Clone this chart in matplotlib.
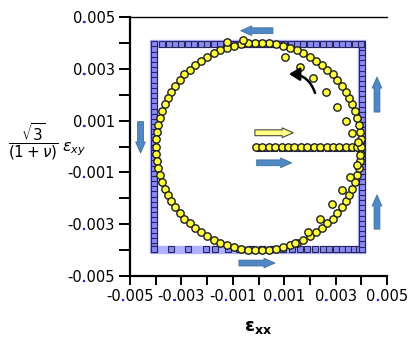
import matplotlib
matplotlib.use("Agg")
import matplotlib.pyplot as plt
import matplotlib.transforms as mtransforms
from matplotlib.patches import FancyArrowPatch

plt.rcParams['font.family'] = ['DejaVu Sans']
plt.rcParams['mathtext.fontset'] = 'dejavusans'

S = 1e-3  # data listed in units of 1e-3

# ---- yellow circles (units 1e-3) ----
yel_line_x = [-0.10, 0.15, 0.40, 0.65, 0.90, 1.15, 1.40, 1.65, 1.90, 2.15, 2.40, 2.65, 2.90, 3.15, 3.40, 3.65, 3.85]
yel_line_y = [0.0] * len(yel_line_x)

yel_q1_x = [4.00, 3.99, 3.96, 3.91, 3.85, 3.76, 3.65, 3.53, 3.39, 3.24, 3.06, 2.88, 2.68, 2.46, 2.24, 2.00, 1.75, 1.50, 1.24, 0.97, 0.69, 0.42, 0.14]
yel_q1_y = [0.00, 0.28, 0.56, 0.83, 1.10, 1.37, 1.63, 1.88, 2.12, 2.35, 2.57, 2.78, 2.97, 3.15, 3.32, 3.46, 3.60, 3.71, 3.80, 3.88, 3.94, 3.98, 4.00]
yel_q2_x = [-0.14, -0.42, -0.69, -0.97, -1.24, -1.50, -1.75, -2.00, -2.24, -2.46, -2.68, -2.88, -3.06, -3.24, -3.39, -3.53, -3.65, -3.76, -3.85, -3.91, -3.96, -3.99, -4.00]
yel_q2_y = [4.00, 3.98, 3.94, 3.88, 3.80, 3.71, 3.60, 3.46, 3.32, 3.15, 2.97, 2.78, 2.57, 2.35, 2.12, 1.88, 1.63, 1.37, 1.10, 0.83, 0.56, 0.28, 0.00]
yel_q3_x = [-3.99, -3.96, -3.91, -3.85, -3.76, -3.65, -3.53, -3.39, -3.24, -3.06, -2.88, -2.68, -2.46, -2.24, -2.00, -1.75, -1.50, -1.24, -0.97, -0.69, -0.42, -0.14]
yel_q3_y = [-0.28, -0.56, -0.83, -1.10, -1.37, -1.63, -1.88, -2.12, -2.35, -2.57, -2.78, -2.97, -3.15, -3.32, -3.46, -3.60, -3.71, -3.80, -3.88, -3.94, -3.98, -4.00]
yel_q4_x = [0.14, 0.42, 0.69, 0.97, 1.24, 1.50, 1.75, 2.00, 2.24, 2.46, 2.68, 2.88, 3.06, 3.24, 3.39, 3.53, 3.65, 3.76, 3.85, 3.91, 3.96, 3.99]
yel_q4_y = [-4.00, -3.98, -3.94, -3.88, -3.80, -3.71, -3.60, -3.46, -3.32, -3.15, -2.97, -2.78, -2.57, -2.35, -2.12, -1.88, -1.63, -1.37, -1.10, -0.83, -0.56, -0.28]

yel_inner_x = [-1.24, -0.59, 1.03, 1.61, 2.13, 2.63, 3.04, 3.39, 3.65, 3.87,
               3.95, 3.82, 3.56, 3.23, 2.87, 2.39, 1.94, 1.42]
yel_inner_y = [4.05, 4.11, 3.47, 3.08, 2.63, 2.12, 1.51, 1.00, 0.51, 0.17,
               -0.33, -0.71, -1.17, -1.68, -2.23, -2.81, -3.29, -3.71]

# ---- blue squares (units 1e-3) ----
sq_mid_x = [0.0, 0.3, 0.6, 0.9, 1.2, 1.5, 1.8, 2.1, 2.4, 2.7, 3.0, 3.3, 3.6, 3.9]
sq_mid_y = [-0.05] * len(sq_mid_x)
sq_rhigh_y = [0.05, 0.25, 0.45, 0.65, 0.85, 1.05, 1.25, 1.45, 1.65, 1.85, 2.05, 2.25, 2.45, 2.65, 2.85, 3.05, 3.25, 3.45, 3.65, 3.85, 3.95]
sq_rhigh_x = [4.02] * len(sq_rhigh_y)
sq_top_x = [4.00, 3.75, 3.50, 3.25, 3.00, 2.75, 2.50, 2.25, 2.00, 1.75, 1.50, 1.25, 1.00, 0.75, 0.50, 0.25, 0.00,
            -0.25, -0.50, -0.75, -1.00, -1.25, -1.50, -1.75, -2.00, -2.25, -2.50, -2.75, -3.00, -3.25, -3.50, -3.75, -4.05]
sq_top_y = [3.95] * len(sq_top_x)
sq_left_y = [3.95, 3.75, 3.55, 3.35, 3.15, 2.95, 2.75, 2.55, 2.35, 2.15, 1.95, 1.75, 1.55, 1.35, 1.15, 0.95, 0.75, 0.55, 0.35, 0.15,
             -0.05, -0.25, -0.45, -0.65, -0.85, -1.05, -1.25, -1.45, -1.65, -1.85, -2.05, -2.25, -2.45, -2.65, -2.85, -3.05, -3.25, -3.45, -3.65, -3.85, -3.97]
sq_left_x = [-4.07] * len(sq_left_y)
sq_bot_x = [-4.05, -3.40, -2.75, -2.05, -1.70, -1.20, -0.75, -0.30, 0.15, 0.55, 0.95, 1.30, 1.60, 1.90, 2.20, 2.50, 2.75, 3.00, 3.25, 3.50, 3.70, 3.90, 4.02]
sq_bot_y = [-3.97] * len(sq_bot_x)
sq_rlow_y = [-3.95, -3.75, -3.55, -3.35, -3.15, -2.95, -2.75, -2.55, -2.35, -2.15, -1.95, -1.75, -1.55, -1.35, -1.15, -0.95, -0.75, -0.55, -0.35, -0.15]
sq_rlow_x = [4.02] * len(sq_rlow_y)

# ---- direction arrows (x0, y0, x1, y1), units 1e-3 ----
blue_arrows = [(0.56, 4.47, -0.69, 4.47),
               (-4.59, 0.96, -4.59, -0.25),
               (4.61, 1.33, 4.61, 2.68),
               (4.61, -3.19, 4.61, -1.87),
               (-0.76, -4.50, 0.64, -4.50),
               (-0.07, -0.63, 1.29, -0.63)]
yellow_arrow = (-0.14, 0.53, 1.35, 0.53)
curved_arrow = (2.20, 2.07, 1.19, 2.80)

ticks = [-5, -4, -3, -2, -1, 0, 1, 2, 3, 4, 5]
xtick_labels = ['-0.005', '', '-0.003', '', '-0.001', '', '0.001', '', '0.003', '', '0.005']
ytick_labels = ['-0.005', '', '-0.003', '', '-0.001', '', '0.001', '', '0.003', '', '0.005']

fig = plt.figure(figsize=(4.08, 3.42), dpi=100)
ax = fig.add_axes([130/408, 66/342, 257/408, 259/342])

def sc(v):
    return [a * S for a in v]

# light band behind the squares
band_x = [4.02, 4.02, -4.07, -4.07, 4.02, 4.02]
band_y = [0.0, 3.95, 3.95, -3.99, -3.99, 0.0]
ax.plot(sc(band_x), sc(band_y), color='#a4a4ff', lw=6, alpha=0.85, solid_joinstyle='miter', zorder=1)

sq_style = dict(ls='none', marker='s', ms=4.8, mfc='#8a8af2', mec='#26265a', mew=0.8, zorder=2)
for xs, ys in [(sq_mid_x, sq_mid_y), (sq_rhigh_x, sq_rhigh_y), (sq_top_x, sq_top_y),
               (sq_left_x, sq_left_y), (sq_bot_x, sq_bot_y), (sq_rlow_x, sq_rlow_y)]:
    ax.plot(sc(xs), sc(ys), **sq_style)

yel_style = dict(ls='none', marker='o', ms=5.3, mfc='#ffff3c', mec='#1e1e1e', mew=1.0, zorder=3)
for xs, ys in [(yel_line_x, yel_line_y), (yel_q1_x, yel_q1_y), (yel_q2_x, yel_q2_y),
               (yel_q3_x, yel_q3_y), (yel_q4_x, yel_q4_y), (yel_inner_x, yel_inner_y)]:
    ax.plot(sc(xs), sc(ys), **yel_style)

astyle = "simple,head_length=0.79,head_width=0.7,tail_width=0.42"
for (x0, y0, x1, y1) in blue_arrows:
    ax.add_patch(FancyArrowPatch((x0*S, y0*S), (x1*S, y1*S), arrowstyle=astyle, mutation_scale=10,
                                 fc='#4f88c4', ec='#3d6f9f', lw=0.6, zorder=4, shrinkA=0, shrinkB=0))
x0, y0, x1, y1 = yellow_arrow
ax.add_patch(FancyArrowPatch((x0*S, y0*S), (x1*S, y1*S), arrowstyle=astyle, mutation_scale=10,
                             fc='#ffff86', ec='#4a4a3a', lw=0.8, zorder=4, shrinkA=0, shrinkB=0))
x0, y0, x1, y1 = curved_arrow
ax.add_patch(FancyArrowPatch((x0*S, y0*S), (x1*S, y1*S), connectionstyle='arc3,rad=0.35',
                             arrowstyle='-|>,head_length=0.45,head_width=0.28', mutation_scale=14,
                             color='black', lw=1.8, zorder=4, shrinkA=0, shrinkB=0))

ax.set_xlim(-0.005, 0.005)
ax.set_ylim(-0.005, 0.005)
ax.set_xticks([t*S for t in ticks])
ax.set_yticks([t*S for t in ticks])
ax.set_xticklabels(xtick_labels, fontsize=10.5)
ax.set_yticklabels(ytick_labels, fontsize=10.5)
ax.tick_params(axis='x', direction='out', length=6.5, width=1.4, pad=3)
ax.tick_params(axis='y', direction='out', length=8, width=1.4, pad=3)
ax.spines['right'].set_visible(False)
ax.spines['top'].set_linewidth(1.0)
ax.spines['left'].set_linewidth(1.6)
ax.spines['bottom'].set_linewidth(1.6)

ax.set_xlabel(r'$\mathbf{\varepsilon_{xx}}$', fontsize=13, labelpad=10)
# y label: fraction plus epsilon_xy, kept as two texts so they clear the tick labels
fig.text(8/408, 1 - 142/342, r'$\dfrac{\sqrt{3}}{(1+\nu)}$', fontsize=11, ha='left', va='center')
fig.text(62/408, 1 - 149/342, r'$\varepsilon_{xy}$', fontsize=11.5, ha='left', va='center')

# blue decimal points in the tick labels (small markers over the '.')
fig.canvas.draw()
r = fig.canvas.get_renderer()
for lab in ax.get_xticklabels() + ax.get_yticklabels():
    s = lab.get_text()
    if '.' not in s:
        continue
    prop = lab.get_fontproperties()
    bb = lab.get_window_extent(r)
    i = s.index('.')
    w_pre, _, _ = r.get_text_width_height_descent(s[:i+1], prop, ismath=False)
    w_dot, h_dot, _ = r.get_text_width_height_descent('.', prop, ismath=False)
    _, _, lp_d = r.get_text_width_height_descent('lp', prop, ismath=False)
    cx = bb.x0 + w_pre - w_dot / 2
    cy = bb.y0 + lp_d + h_dot / 2
    ax.plot([cx], [cy], marker='s', ms=2.0, mfc='#2a2ae8', mec='#2a2ae8', mew=0.2,
            transform=mtransforms.IdentityTransform(), clip_on=False, zorder=10)

fig.savefig('out.png', dpi=100)
